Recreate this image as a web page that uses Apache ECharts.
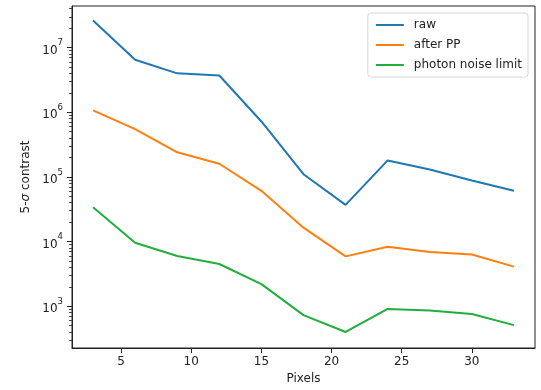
<!DOCTYPE html>
<html><head><meta charset="utf-8">
<script src="https://cdn.jsdelivr.net/npm/echarts@6/dist/echarts.min.js"></script>
<style>html,body{margin:0;padding:0;background:#fff}#c{width:541px;height:390px}</style>
</head><body><div id="c"></div>
<script>
const pixels = [3, 6, 9, 12, 15, 18, 21, 24, 27, 30, 33];
const raw = [2.63e7, 6.5e6, 4.0e6, 3.7e6, 7.2e5, 1.1e5, 3.7e4, 1.8e5, 1.3e5, 8.8e4, 6.1e4];
const afterPP = [1.07e6, 5.5e5, 2.4e5, 1.6e5, 6.1e4, 1.64e4, 5.9e3, 8.3e3, 6.9e3, 6.3e3, 4.1e3];
const photonLimit = [3.4e4, 9.6e3, 6.0e3, 4.5e3, 2.2e3, 7.3e2, 4.0e2, 9.1e2, 8.6e2, 7.6e2, 5.1e2];
const seriesNames = ['raw', 'after PP', 'photon noise limit'];
const xTicks = [5, 10, 15, 20, 25, 30];
const yMajorTicks = [1e3, 1e4, 1e5, 1e6, 1e7];
const yMinorTicks = [];
for (let e = 2; e <= 7; e++) for (let m = 2; m <= 9; m++) yMinorTicks.push(m * Math.pow(10, e));

const font = 'DejaVu Sans';
const txt = '#222';
const colors = ['#1f77b4', '#ff7f0e', '#21ae3c'];
const yMin = 226, yMax = 4.4e7;

function pairs(ys) { return pixels.map((x, i) => [x, ys[i]]); }

const chart = echarts.init(document.getElementById('c'), null, {renderer: 'canvas'});
chart.setOption({
  animation: false,
  color: colors,
  grid: {left: 72, right: 6, top: 6, bottom: 40, show: true, borderColor: '#222', borderWidth: 1, backgroundColor: 'transparent'},
  legend: {
    data: seriesNames, orient: 'vertical', right: 13, top: 13,
    backgroundColor: 'rgba(255,255,255,0.8)', borderColor: '#d6d6d6', borderWidth: 1, borderRadius: 3,
    padding: [4, 6, 4, 4], itemGap: 6, itemWidth: 28, itemHeight: 2, icon: 'rect',
    textStyle: {fontFamily: font, fontSize: 12, color: txt, padding: [0, 0, 0, 5]}
  },
  xAxis: {
    type: 'value', min: 1.5, max: 34.5,
    name: 'Pixels', nameLocation: 'middle', nameGap: 25,
    nameTextStyle: {fontFamily: font, fontSize: 12, color: txt},
    axisLine: {show: true, lineStyle: {color: '#222', width: 1}},
    axisTick: {show: true, customValues: xTicks, length: 5, lineStyle: {color: '#222'}},
    axisLabel: {customValues: xTicks, fontFamily: font, fontSize: 12, color: txt, margin: 8},
    splitLine: {show: false}
  },
  yAxis: [{
    type: 'log', min: yMin, max: yMax, logBase: 10,
    name: '5-{i|σ} contrast', nameLocation: 'middle', nameGap: 39,
    nameTextStyle: {fontFamily: font, fontSize: 12, color: txt, rich: {i: {fontFamily: font, fontSize: 12, fontStyle: 'italic', color: txt}}},
    axisLine: {show: true, lineStyle: {color: '#222', width: 1}},
    axisTick: {show: true, customValues: yMajorTicks, length: 5, lineStyle: {color: '#222'}},
    axisLabel: {customValues: yMajorTicks, fontFamily: font, fontSize: 12, color: txt, margin: 9,
      formatter: v => '{b|10}{s|' + Math.round(Math.log10(v)) + '}',
      rich: {
        b: {fontFamily: font, fontSize: 12, color: txt, lineHeight: 18, verticalAlign: 'bottom'},
        s: {fontFamily: font, fontSize: 8.5, color: txt, lineHeight: 18, verticalAlign: 'top'}
      }},
    splitLine: {show: false}
  }, {
    type: 'log', min: yMin, max: yMax, logBase: 10, position: 'left',
    axisLine: {show: false},
    axisTick: {show: true, customValues: yMinorTicks, length: 3, lineStyle: {color: '#222', width: 0.8}},
    axisLabel: {show: false},
    splitLine: {show: false}
  }],
  series: [
    {name: seriesNames[0], type: 'line', data: pairs(raw), showSymbol: false, lineStyle: {width: 2}},
    {name: seriesNames[1], type: 'line', data: pairs(afterPP), showSymbol: false, lineStyle: {width: 2}},
    {name: seriesNames[2], type: 'line', data: pairs(photonLimit), showSymbol: false, lineStyle: {width: 2}}
  ]
});
chart.setOption({legend: {padding: [6, 6, 6, 8], itemGap: 8}});
</script></body></html>
